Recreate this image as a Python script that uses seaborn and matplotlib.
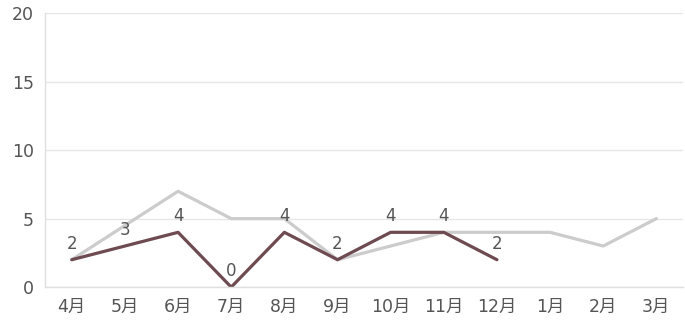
import matplotlib
matplotlib.use("Agg")
import matplotlib.pyplot as plt
import seaborn as sns
import pandas as pd

months = ["4月", "5月", "6月", "7月", "8月", "9月", "10月", "11月", "12月", "1月", "2月", "3月"]
prev_values = [2, 4.5, 7, 5, 5, 2, 3, 4, 4, 4, 3, 5]
curr_values = [2, 3, 4, 0, 4, 2, 4, 4, 2]

sns.set_theme(style="white")
plt.rcParams['font.family'] = ['DejaVu Sans', 'Noto Sans CJK JP']

fig, ax = plt.subplots(figsize=(6.85, 3.3), dpi=100)
fig.subplots_adjust(left=0.066, right=0.997, top=0.96, bottom=0.13)

df_prev = pd.DataFrame({"x": range(len(prev_values)), "y": prev_values})
df_curr = pd.DataFrame({"x": range(len(curr_values)), "y": curr_values})

sns.lineplot(data=df_prev, x="x", y="y", ax=ax, color="#cccccc", linewidth=2.3)
sns.lineplot(data=df_curr, x="x", y="y", ax=ax, color="#6e4b51", linewidth=2.3)

for i, v in enumerate(curr_values):
    ax.text(i, v + 0.5, str(v), ha="center", va="bottom", fontsize=12, color="#555555")

ax.set_xlim(-0.5, len(months) - 0.5)
ax.set_ylim(0, 20)
ax.set_yticks([0, 5, 10, 15, 20])
ax.set_xticks(range(len(months)))
ax.set_xticklabels(months)
ax.set_xlabel("")
ax.set_ylabel("")
ax.grid(axis="y", color="#e6e6e6", linewidth=1)
ax.set_axisbelow(True)
for s in ["top", "right"]:
    ax.spines[s].set_visible(False)
for s in ["left", "bottom"]:
    ax.spines[s].set_color("#e0e0e0")
    ax.spines[s].set_linewidth(1)
ax.tick_params(axis="both", length=0, labelsize=12.5, labelcolor="#555555", pad=8)

fig.savefig("out.png", dpi=100)
